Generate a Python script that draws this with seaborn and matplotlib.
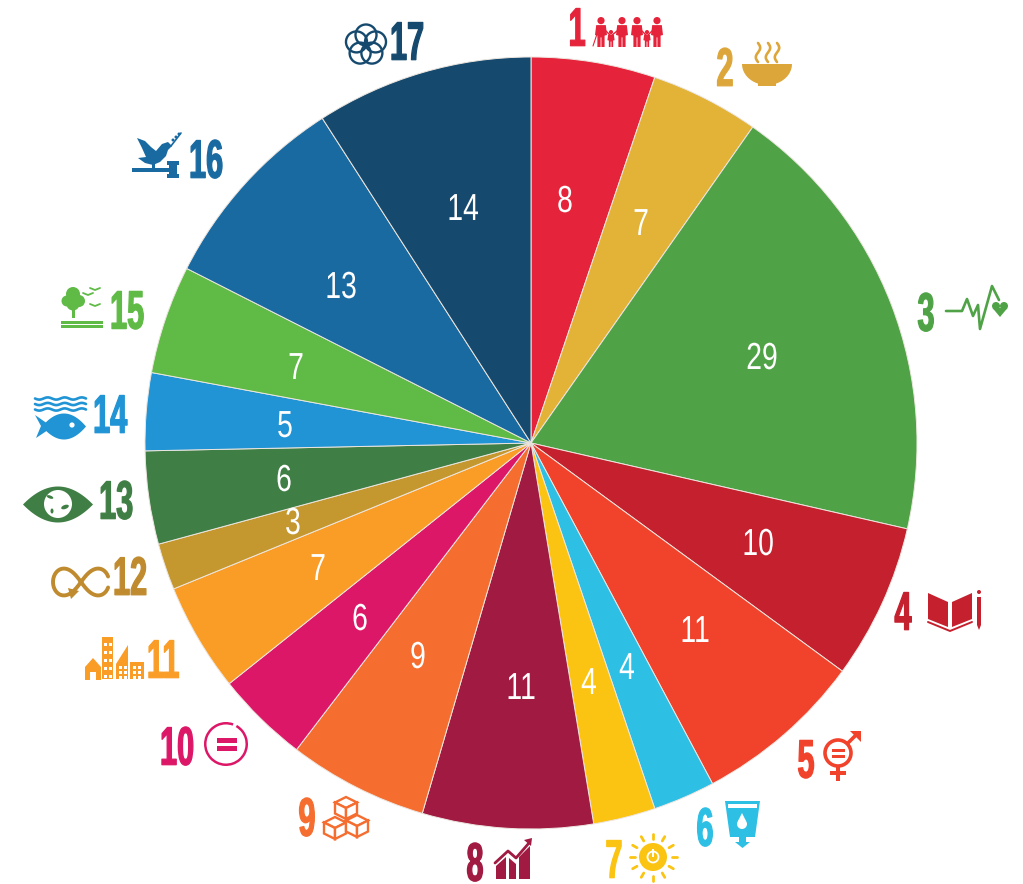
import numpy as np
import seaborn as sns
import matplotlib
matplotlib.use('Agg')
import matplotlib.pyplot as plt
from matplotlib.patches import Circle, Ellipse, Polygon, Rectangle, Wedge
from matplotlib.patheffects import AbstractPathEffect
from matplotlib.transforms import Affine2D

# Data
goals = ['1', '2', '3', '4', '5', '6', '7', '8', '9', '10', '11', '12', '13', '14', '15', '16', '17']
counts = [8, 7, 29, 10, 11, 4, 4, 11, 9, 6, 7, 3, 6, 5, 7, 13, 14]
wedge_colors = ['#E5243B', '#E2B337', '#4FA346', '#C5202E', '#F1422B', '#2EBFE5', '#FBC412', '#A01A42', '#F56D2F',
                '#DD1767', '#FA9D26', '#C4982F', '#3F7E44', '#2094D4', '#5FBA46', '#1A6AA2', '#154A6E']
icon_colors = list(wedge_colors)
icon_colors[1] = '#DDA63A'
icon_colors[11] = '#BF8B2E'

# centre of each goal number, in pixels of the picture
number_x = [577, 725, 926, 903, 806, 705, 614, 475, 307, 177, 163, 130, 116, 110, 127, 206, 407]
number_y = [30, 70, 315, 614, 762, 830, 862, 865, 820, 749, 662, 579, 503, 417, 313, 162, 44]

# centre of each count inside the pie
label_x = [565, 641, 762, 758, 695, 627, 589, 521, 418, 360, 318, 293, 284, 285, 296, 341, 463]
label_y = [202, 225, 359, 545, 632, 669, 684, 689, 658, 620, 570, 524, 481, 427, 369, 288, 210]

sns.set_theme(style='white')
plt.rcParams['font.family'] = ['Liberation Sans Narrow', 'Liberation Sans', 'DejaVu Sans']


class Stretch(AbstractPathEffect):
    # the reference uses a tall condensed face, none is installed
    def __init__(self, sx=1.0, sy=1.0, lw=0.0):
        super().__init__()
        self.sx, self.sy, self.lw = sx, sy, lw

    def draw_path(self, renderer, gc, tpath, affine, rgbFace=None):
        e = tpath.get_extents()
        cx, cy = (e.x0 + e.x1) / 2, (e.y0 + e.y1) / 2
        t = Affine2D().translate(-cx, -cy).scale(self.sx, self.sy).translate(cx, cy) + affine
        gc0 = renderer.new_gc()
        gc0.copy_properties(gc)
        if self.lw:
            gc0.set_linewidth(self.lw)
            gc0.set_foreground(rgbFace)
        renderer.draw_path(gc0, tpath, t, rgbFace)
        gc0.restore()


W, H = 1023, 884
cx, cy, R = 531, 443, 386
fig = plt.figure(figsize=(W / 100, H / 100), dpi=100)
fig.patch.set_facecolor('white')

# Pie
ax = fig.add_axes([(cx - R) / W, (H - cy - R) / H, 2 * R / W, 2 * R / H])
wedges, _ = ax.pie(counts, colors=wedge_colors, startangle=90, counterclock=False,
                   wedgeprops={'edgecolor': '#EDE6E0', 'linewidth': 0.7})
ax.set_xlim(-1, 1)
ax.set_ylim(-1, 1)
for w in wedges:
    w.set_clip_on(False)

# Overlay in picture pixels for goal numbers and icons
ov = fig.add_axes([0, 0, 1, 1])
ov.set_xlim(0, W)
ov.set_ylim(H, 0)
ov.axis('off')
ov.patch.set_alpha(0)

for n, x, y in zip(counts, label_x, label_y):
    ov.text(x, y, str(n), color='white', fontsize=24, ha='center', va='center',
            path_effects=[Stretch(sx=0.85, sy=1.13)])

for g, x, y, c in zip(goals, number_x, number_y, icon_colors):
    ov.text(x, y, g, color=c, fontsize=26, fontweight='bold', ha='center', va='center',
            path_effects=[Stretch(sx=0.85, sy=1.5, lw=0.9)])


def poly(pts, c):
    ov.add_patch(Polygon(pts, closed=True, fc=c, ec='none'))


def rect(x0, y0, x1, y1, c):
    ov.add_patch(Rectangle((x0, y0), x1 - x0, y1 - y0, fc=c, ec='none'))


def line(pts, c, lw=1.5):
    pts = np.array(pts, dtype=float)
    ov.plot(pts[:, 0], pts[:, 1], color=c, lw=lw, solid_capstyle='round', solid_joinstyle='round')


def ring(x, y, r, c, lw=1.8):
    ov.add_patch(Circle((x, y), r, fc='none', ec=c, lw=lw))


def dot(x, y, r, c):
    ov.add_patch(Circle((x, y), r, fc=c, ec='none'))


def lens(x, y, hw, hh, c):
    # shape with pointed ends, used for the eye and the fish
    xx = np.linspace(-1, 1, 40)
    top = [(x + hw * a, y - hh * (1 - a ** 2)) for a in xx]
    bot = [(x - hw * a, y + hh * (1 - a ** 2)) for a in xx]
    poly(top + bot, c)


def person(x, top, bottom, hw, c):
    h = bottom - top
    dot(x, top + h * 0.12, h * 0.12, c)
    poly([(x - hw * 0.8, top + h * 0.27), (x + hw * 0.8, top + h * 0.27), (x + hw, top + h * 0.6),
          (x + hw * 0.6, top + h * 0.62), (x + hw * 0.6, bottom), (x + 0.4, bottom), (x + 0.4, top + h * 0.68),
          (x - 0.4, top + h * 0.68), (x - 0.4, bottom), (x - hw * 0.6, bottom), (x - hw * 0.6, top + h * 0.62),
          (x - hw, top + h * 0.6)], c)


def icon_1(c):
    for x in [601, 622, 637, 657]:
        person(x, 17, 47, 6, c)
    for x in [611, 647]:
        person(x, 30, 47, 3.6, c)
    line([(597, 34), (593, 46)], c, 0.8)
    line([(606, 31), (611, 36), (617, 31)], c, 1)
    line([(642, 31), (647, 36), (652, 31)], c, 1)


def icon_2(c):
    t = np.linspace(np.pi, 2 * np.pi, 30)
    pts = [(767 + 25 * np.cos(a), 64 - 21 * np.sin(a)) for a in t]
    poly(pts, c)
    rect(758, 82, 776, 86, c)
    for x in [758, 768, 777]:
        yy = np.linspace(43, 62, 20)
        line(np.c_[x + 2.2 * np.sin((yy - 43) / 19 * 2 * np.pi), yy], c, 1.9)


def icon_3(c):
    line([(946, 311), (962, 311), (967, 299), (973, 316), (978, 305), (980, 329), (992, 286), (999, 300)], c, 1.9)
    dot(996, 306, 4, c)
    dot(1004, 306, 4, c)
    poly([(992.5, 308), (1007.5, 308), (1000, 317)], c)


def icon_4(c):
    poly([(928, 593), (948, 602), (948, 627), (928, 619)], c)
    poly([(952, 602), (972, 593), (972, 619), (952, 627)], c)
    line([(928, 622), (950, 631), (972, 622)], c, 1.4)
    rect(977, 597, 981, 625, c)
    dot(979, 592, 2, c)
    poly([(977, 625), (981, 625), (979, 630)], c)


def icon_5(c):
    ring(838, 753, 13, c, 2.6)
    rect(832, 749, 845, 752, c)
    rect(832, 755, 845, 758, c)
    rect(836, 766, 840, 781, c)
    rect(830, 771, 846, 775, c)
    line([(848, 743), (858, 733)], c, 2.6)
    poly([(850, 731), (861, 731), (861, 742)], c)


def icon_6(c):
    poly([(725, 801), (760, 801), (755, 837), (730, 837)], c)
    poly([(728, 804), (757, 804), (757, 808), (728, 808)], 'white')
    rect(739, 837, 746, 842, c)
    poly([(735, 842), (750, 842), (742.5, 848)], c)
    dot(742, 824, 5, 'white')
    poly([(738, 821), (746, 821), (742, 813)], 'white')


def icon_7(c):
    dot(653, 857, 14, c)
    ring(653, 857, 5.5, 'white', 1.3)
    rect(652, 849, 654, 857, 'white')
    for a in np.arange(0, 360, 30):
        r = np.radians(a)
        line([(653 + 18.5 * np.cos(r), 857 + 18.5 * np.sin(r)), (653 + 23.5 * np.cos(r), 857 + 23.5 * np.sin(r))],
             c, 2)


def icon_8(c):
    poly([(496, 879), (496, 866), (506, 857), (506, 879)], c)
    poly([(509, 879), (509, 858), (516, 864), (516, 879)], c)
    poly([(519, 879), (519, 857), (530, 846), (530, 879)], c)
    line([(495, 863), (508, 851), (516, 858), (529, 843)], c, 2)
    poly([(524, 840), (532, 838), (531, 846)], c)


def icon_9(c):
    def cube(x, y, s=11):
        top = [(x, y - s), (x + s, y - s / 2), (x, y), (x - s, y - s / 2)]
        left = [(x - s, y - s / 2), (x, y), (x, y + s), (x - s, y + s / 2)]
        right = [(x + s, y - s / 2), (x, y), (x, y + s), (x + s, y + s / 2)]
        for f in [top, left, right]:
            ov.add_patch(Polygon(f, closed=True, fc='white', ec=c, lw=1.7))
    cube(346, 808)
    cube(335, 828)
    cube(357, 826)


def icon_10(c):
    ov.add_patch(Wedge((226, 744), 22, -60, 290, width=2.5, fc=c, ec='none'))
    rect(217, 738, 237, 742.5, c)
    rect(217, 746, 237, 750.5, c)


def icon_11(c):
    poly([(85, 667), (93, 658), (101, 667), (101, 680), (96, 680), (96, 672), (90, 672), (90, 680), (85, 680)], c)
    rect(102, 637, 113, 679, c)
    poly([(116, 679), (116, 664), (128, 645), (128, 679)], c)
    rect(130, 662, 144, 679, c)
    for yy in range(643, 676, 8):
        rect(104, yy, 107, yy + 3, 'white')
        rect(109, yy, 112, yy + 3, 'white')
    for yy in range(666, 678, 5):
        rect(119, yy, 122, yy + 2.5, 'white')
        rect(124, yy, 127, yy + 2.5, 'white')
        rect(133, yy, 136, yy + 2.5, 'white')
        rect(138, yy, 141, yy + 2.5, 'white')


def icon_12(c):
    t = np.linspace(0.15, 2 * np.pi - 0.15, 100)
    x = 81 + 28 * np.cos(t) / (1 + np.sin(t) ** 2)
    y = 582 + 38 * np.cos(t) * np.sin(t) / (1 + np.sin(t) ** 2)
    line(np.c_[x, y], c, 2.8)
    poly([(68, 588), (79, 591), (71, 599)], c)


def icon_13(c):
    lens(58, 504.5, 35, 18, c)
    dot(58, 504, 14, 'white')
    ov.add_patch(Ellipse((50, 497), 7, 3, fc=c, ec='none', angle=20))
    ov.add_patch(Ellipse((65, 507), 8, 4, fc=c, ec='none', angle=-20))
    ov.add_patch(Ellipse((52, 511), 3, 5, fc=c, ec='none'))


def icon_14(c):
    xx = np.linspace(35, 86, 60)
    for y0 in [398.5, 404, 409.5]:
        line(np.c_[xx, y0 + 1.1 * np.sin((xx - 35) / 51 * 6 * np.pi)], c, 1.9)
    lens(64, 426.5, 22, 13, c)
    poly([(35, 415), (48, 424), (48, 430), (36, 438), (41, 426)], c)
    dot(72, 425, 2.6, 'white')


def icon_15(c):
    for x, y, r in [(73, 294, 7), (67, 301, 5.5), (79, 301, 6), (73, 304, 6.5)]:
        dot(x, y, r, c)
    rect(72, 306, 75, 318, c)
    rect(61, 321, 103, 324, c)
    rect(61, 325, 103, 328, c)
    for x, y in [(88, 294), (95, 289), (95, 305)]:
        line([(x - 5, y - 1), (x, y + 1), (x + 5, y - 1)], c, 1.3)


def icon_16(c):
    poly([(137, 138), (145, 141), (151, 147), (156, 151), (162, 144), (168, 142), (172, 146), (168, 150), (166, 156),
          (160, 162), (153, 165), (145, 163), (138, 158), (146, 157), (142, 148)], c)
    rect(152, 163, 155, 168, c)
    line([(171, 146), (181, 133)], c, 1.2)
    for x, y in [(173, 140), (176, 137), (179, 134)]:
        dot(x, y, 1.5, c)
    rect(132, 168, 169, 172, c)
    rect(167, 161, 179, 165, c)
    rect(169, 165, 177, 174, c)
    rect(167, 174, 179, 178, c)


def icon_17(c):
    for a in [-90, -18, 54, 126, 198]:
        r = np.radians(a)
        ring(366 + 10 * np.cos(r), 45 + 10 * np.sin(r), 10.5, c, 1.7)


for draw, c in zip([icon_1, icon_2, icon_3, icon_4, icon_5, icon_6, icon_7, icon_8, icon_9, icon_10, icon_11,
                    icon_12, icon_13, icon_14, icon_15, icon_16, icon_17], icon_colors):
    draw(c)

ov.set_xlim(0, W)
ov.set_ylim(H, 0)
fig.savefig('out.png', dpi=100)
